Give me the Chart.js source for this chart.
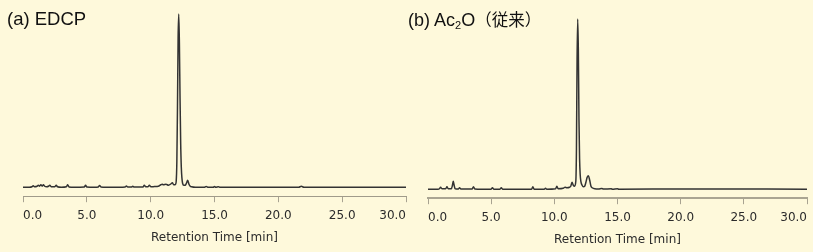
<!DOCTYPE html>
<html>
<head>
<meta charset="utf-8">
<script src="https://cdn.jsdelivr.net/npm/chart.js@4.4.0/dist/chart.umd.min.js"></script>
<style>
    html, body { margin: 0; padding: 0; }
    body {
        width: 813px;
        height: 252px;
        overflow: hidden;
        position: relative;
        background: #fef9db;
    }
    canvas { position: absolute; top: 0; }
    #chartA { left: 0; }
    #chartB { left: 405px; }
    .title {
        position: absolute;
        top: 10px;
        font-family: 'Liberation Sans', Arial, sans-serif;
        font-size: 18.5px;
        line-height: 18px;
        color: #111;
        white-space: nowrap;
    }
    .title .sub { font-size: 11px; position: relative; top: 3px; }
    .title .jp { font-family: 'Noto Sans CJK JP', sans-serif; font-size: 16.5px; }
</style>
</head>
<body>
<canvas id="chartA" width="416" height="252"></canvas>
<canvas id="chartB" width="415" height="252"></canvas>
<div class="title" style="left:7px">(a) EDCP</div>
<div class="title" style="left:408px; font-size:18px">(b) Ac<span class="sub">2</span>O<span class="jp">（従来）</span></div>
<script>
// x axis ticks (min)
const tickValues = [0, 5, 10, 15, 20, 25, 30]

// (a) EDCP chromatogram, retention time [min] and signal (height above baseline)
const timesA = [
    0.0, 0.5, 0.7, 0.8, 0.9, 1.1, 1.2, 1.3, 1.4, 1.5, 1.6, 1.7, 1.85, 2.0, 2.1, 2.2,
    2.5, 2.6, 2.7, 3.0, 3.4, 3.5, 3.6, 4.0, 4.8, 4.9, 5.0, 5.6, 5.9, 6.0, 6.1, 7.0,
    8.0, 8.1, 8.2, 8.5, 8.6, 8.7, 9.4, 9.5, 9.6, 9.8, 9.9, 10.0, 10.3, 10.6, 10.8,
    10.9, 11.0, 11.2, 11.4, 11.6, 11.7, 11.8, 11.9, 11.95, 12.0, 12.05, 12.1, 12.15,
    12.2, 12.25, 12.3, 12.35, 12.4, 12.45, 12.5, 12.6, 12.7, 12.8, 12.9, 13.0, 13.1,
    13.2, 13.5, 14.2, 14.35, 14.5, 14.9, 15.0, 15.1, 15.3, 15.4, 21.6, 21.8, 22.0,
    25.0, 30.0
]
const signalA = [
    0, 0, 0.5, 1.5, 0.5, 1, 2, 1, 2.5, 1, 2.5, 1, 0.5, 1, 2, 0.5,
    0.5, 2, 0.5, 0, 0.5, 2.5, 0.3, 0, 0.3, 2, 0.3, 0, 0.3, 1.8, 0.3, 0,
    0.3, 1.2, 0.3, 0.3, 1, 0.3, 0.3, 2, 0.5, 0.5, 2, 0.5, 0.7, 1, 2.5,
    3, 2.5, 3, 2, 3.5, 4.5, 2.5, 2.5, 3, 6, 25, 80, 150,
    174, 145, 90, 45, 20, 9, 4, 2, 2, 4, 7, 3, 1,
    0.5, 0, 0, 0.8, 0, 0, 0.8, 0, 0.6, 0, 0, 1, 0,
    0, 0
]

// (b) Ac2O (conventional) chromatogram
const timesB = [
    0.0, 0.8, 0.9, 1.0, 1.1, 1.4, 1.5, 1.6, 1.85, 1.95, 2.0, 2.05, 2.15, 2.4, 2.5,
    2.6, 3.5, 3.6, 3.7, 5.0, 5.1, 5.2, 5.7, 5.8, 5.9, 8.2, 8.3, 8.4, 9.2, 9.3, 9.4,
    10.1, 10.2, 10.3, 10.7, 10.85, 11.0, 11.2, 11.3, 11.4, 11.5, 11.6, 11.7, 11.75,
    11.8, 11.85, 11.9, 11.95, 12.0, 12.05, 12.1, 12.2, 12.3, 12.4, 12.5, 12.6, 12.7,
    12.8, 12.9, 13.0, 13.2, 13.5, 13.75, 13.9, 14.5, 14.6, 15.0, 15.1, 20.5, 30.0
]
const signalB = [
    0, 0, 0.5, 2, 0.5, 0.5, 2.5, 0.5, 0.5, 5, 8, 5, 0.5, 0.3, 1.5,
    0.3, 0.3, 2.5, 0.3, 0, 1.5, 0, 0, 1.5, 0, 0, 2.5, 0, 0, 1, 0,
    0.5, 3, 0.5, 1, 2, 1.5, 2, 3, 7, 4, 3, 8, 40,
    130, 171, 140, 70, 30, 14, 8, 4, 2.5, 3, 7, 12, 13.5,
    9, 3, 1.5, 0.5, 0.3, 0.8, 0.2, 0.5, 0, 0.5, 0, 0.3, 0
]

const tickFont = { family: 'DejaVu Sans', size: 12, lineHeight: 1 }
const titleFont = { family: 'DejaVu Sans', size: 12 }

const makeChart = (id, times, signal, opts) => {
    const el = document.getElementById(id)
    return new Chart(el, {
        type: 'line',
        data: {
            datasets: [
                {
                    data: times.map((t, i) => ({ x: t, y: signal[i] })),
                    borderColor: '#333',
                    borderWidth: 1.5,
                    pointRadius: 0,
                    cubicInterpolationMode: 'monotone',
                    fill: false
                }
            ]
        },
        options: {
            responsive: false,
            animation: false,
            events: [],
            layout: {
                padding: { left: 23, right: opts.right, top: 10, bottom: opts.bottom }
            },
            plugins: {
                legend: { display: false },
                tooltip: { enabled: false }
            },
            scales: {
                x: {
                    type: 'linear',
                    min: 0,
                    max: 30,
                    afterBuildTicks: (axis) => {
                        axis.ticks = tickValues.map((v) => ({ value: v }))
                    },
                    grid: {
                        drawOnChartArea: false,
                        tickLength: 6,
                        tickColor: '#a8a391'
                    },
                    border: { color: opts.axisColor, width: opts.axisWidth },
                    ticks: {
                        align: 'inner',
                        padding: 8,
                        autoSkip: false,
                        maxRotation: 0,
                        color: '#2b2b2b',
                        font: tickFont,
                        callback: (v) => Number(v).toFixed(1)
                    },
                    title: {
                        display: true,
                        text: 'Retention Time [min]',
                        color: '#2b2b2b',
                        font: titleFont,
                        padding: { top: 0, bottom: 5 }
                    }
                },
                y: { display: false, min: -9, max: opts.max }
            }
        }
    })
}

makeChart('chartA', timesA, signalA, {
    right: 10, bottom: 2.4, max: 178, axisColor: '#a09b8a', axisWidth: 1
})
makeChart('chartB', timesB, signalB, {
    right: 13, bottom: 0.4, max: 180, axisColor: '#aaa592', axisWidth: 2
})
</script>
</body>
</html>
